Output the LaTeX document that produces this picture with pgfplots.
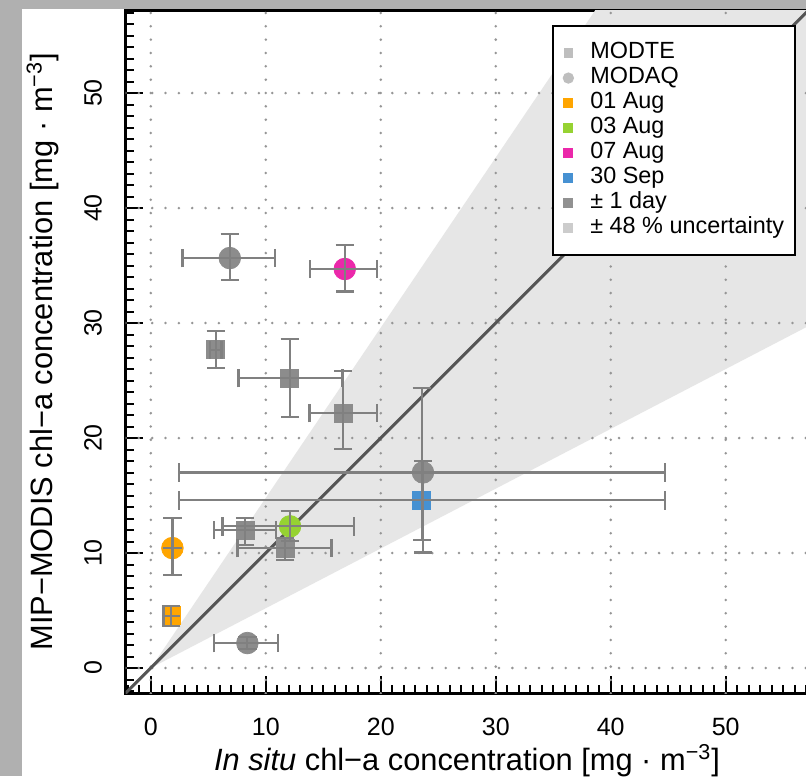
\documentclass[border=0pt]{standalone}
\usepackage{fontspec}
\setmainfont{Liberation Sans}
\usepackage{pgfplots}
\usepackage{pgfplotstable}
\pgfplotsset{compat=1.18}

\definecolor{photo}{RGB}{176,176,176}
\definecolor{wedge}{RGB}{230,230,230}
\definecolor{oneline}{RGB}{85,85,85}
\definecolor{ptgray}{RGB}{140,140,140}
\definecolor{errgray}{RGB}{128,128,128}
\definecolor{lggray}{RGB}{190,190,190}
\definecolor{lgdark}{RGB}{145,145,145}
\definecolor{lglight}{RGB}{204,204,204}
\definecolor{gridgray}{RGB}{150,150,150}
\definecolor{cOrange}{RGB}{255,165,0}
\definecolor{cGreen}{RGB}{150,210,50}
\definecolor{cMagenta}{RGB}{235,40,170}
\definecolor{cBlue}{RGB}{70,145,210}

% gray squares: MODTE, +-1 day
\pgfplotstableread{
x y
5.65 27.68
12.09 25.2
16.74 22.17
8.2 12.0
11.68 10.43
}\modtegray

% gray circles: MODAQ, +-1 day
\pgfplotstableread{
x y
6.87 35.65
23.67 17.01
8.4 2.17
}\modaqgray

% error bars of all points: x, y, x+, x-, y+, y-
\pgfplotstableread{
x y exp exm eyp eym
5.65 27.68 0.5 0.5 1.65 1.59
12.09 25.2 4.58 4.46 3.4 3.4
16.74 22.17 2.96 2.94 3.63 3.1
8.2 12.0 2.7 2.7 1.04 1.28
11.68 10.43 4.03 4.14 0.87 1.01
6.87 35.65 3.91 4.11 2.12 1.88
23.67 17.01 21.02 21.22 0.96 6.96
8.4 2.17 2.67 2.9 0.5 0.5
1.88 10.43 0 0 2.61 2.32
1.77 4.55 0 0.67 0.81 0.87
12.11 12.32 5.57 5.88 1.3 1.3
16.87 34.7 2.78 3.02 2.1 1.95
23.57 14.58 21.12 21.12 9.77 3.42
}\errs

\begin{document}
\begin{tikzpicture}
\useasboundingbox (0pt,0pt) rectangle (403pt,388pt);
\fill[photo] (0pt,0pt) rectangle (403pt,388pt);
\fill[white] (11pt,0pt) rectangle (403pt,383.5pt);
\begin{axis}[
  at={(62.75pt,41.35pt)}, anchor=south west,
  scale only axis, width=341.5pt, height=341.5pt,
  xmin=-2.2, xmax=57.2, ymin=-2.2, ymax=57.2,
  clip marker paths=true,
  xtick={0,10,...,50}, ytick={0,10,...,50},
  minor xtick={-2,-1,...,57}, minor ytick={-2,-1,...,57},
  tick align=inside, tick pos=left,
  major tick length=8.5pt, minor tick length=4.25pt,
  tick style={black, line width=1pt},
  axis line style={black, line width=1.3pt},
  /pgf/number format/assume math mode=true,
  tick label style={font=\fontsize{12.5}{14}\selectfont},
  xticklabel style={anchor=center, yshift=-17pt},
  yticklabel style={anchor=center, xshift=-16.25pt, rotate=90},
  every axis x label/.style={at={(axis description cs:0.5,-0.1127)}, anchor=base,
    font=\fontsize{15.4}{18}\selectfont},
  every axis y label/.style={at={(axis description cs:-0.1076,0.5)}, rotate=90, anchor=base,
    font=\fontsize{15.4}{18}\selectfont},
  xlabel={\textit{In situ} chl−a concentration [mg · m\textsuperscript{−3}]},
  ylabel={MIP−MODIS chl−a concentration [mg · m\textsuperscript{−3}]},
  legend style={at={(axis description cs:0.9817,0.9785)}, anchor=north east,
    draw=black, line width=1pt, fill=white,
    inner xsep=3.5pt, inner ysep=7.3pt,
    font=\fontsize{11.7}{13}\selectfont,
    nodes={text height=8.3pt, text depth=2.4pt, inner xsep=2pt, inner ysep=0.9pt},
    row sep=0pt, column sep=5pt},
  legend cell align=left,
  legend image code/.code={\path[draw=none, fill=none] (-4pt,-4pt) rectangle (4pt,4pt);
    \draw[#1] plot coordinates {(0pt,0pt)};},
]
% +-48 % uncertainty wedge
\addplot[fill=wedge, draw=none, forget plot] coordinates {(0,0) (60,88.8) (60,31.2) (0,0)};
% dotted grid
\pgfplotsinvokeforeach{0,10,20,30,40,50}{
  \draw[gridgray, line width=1.4pt, line cap=round, dash pattern=on 0pt off 6.67pt]
    (axis cs:#1,-2.2) -- (axis cs:#1,57.2);
  \draw[gridgray, line width=1.4pt, line cap=round, dash pattern=on 0pt off 6.67pt]
    (axis cs:-2.2,#1) -- (axis cs:57.2,#1);
}
% 1:1 line
\addplot[oneline, line width=1.5pt, forget plot] coordinates {(-2.2,-2.2) (57.2,57.2)};
% points
\addplot[only marks, mark=square*, mark size=4.5pt, mark options={draw=ptgray, fill=ptgray}, forget plot] table[x=x,y=y]{\modtegray};
\addplot[only marks, mark=*, mark size=5.4pt, mark options={draw=ptgray, fill=ptgray}, forget plot] table[x=x,y=y]{\modaqgray};
\addplot[only marks, mark=*, mark size=5.4pt, mark options={draw=cOrange, fill=cOrange}, forget plot] coordinates {(1.88,10.43)};
\addplot[only marks, mark=square*, mark size=4.5pt, mark options={draw=cOrange, fill=cOrange}, forget plot] coordinates {(1.77,4.55)};
\addplot[only marks, mark=*, mark size=5.4pt, mark options={draw=cGreen, fill=cGreen}, forget plot] coordinates {(12.11,12.32)};
\addplot[only marks, mark=*, mark size=5.4pt, mark options={draw=cMagenta, fill=cMagenta}, forget plot] coordinates {(16.87,34.7)};
\addplot[only marks, mark=square*, mark size=4.5pt, mark options={draw=cBlue, fill=cBlue}, forget plot] coordinates {(23.57,14.58)};
% error bars: x direction
\addplot[draw=none, forget plot,
  error bars/.cd,
    x dir=both, x explicit, error mark=|,
    error bar style={draw=errgray, line width=1.1pt},
    error mark options={draw=errgray, line width=1.1pt, mark size=4.6pt}]
  table[x=x, y=y, x error plus=exp, x error minus=exm]{\errs};
% error bars: y direction
\addplot[draw=none, forget plot,
  error bars/.cd,
    y dir=both, y explicit, error mark=|,
    error bar style={draw=errgray, line width=1.1pt},
    error mark options={draw=errgray, line width=1.1pt, mark size=4.6pt}]
  table[x=x, y=y, y error plus=eyp, y error minus=eym]{\errs};
% legend
\addlegendimage{only marks, mark=square*, mark size=1.9pt, mark options={draw=lggray, fill=lggray}}
\addlegendentry{MODTE}
\addlegendimage{only marks, mark=*, mark size=2.3pt, mark options={draw=lggray, fill=lggray}}
\addlegendentry{MODAQ}
\addlegendimage{only marks, mark=square*, mark size=2pt, mark options={draw=cOrange, fill=cOrange}}
\addlegendentry{01 Aug}
\addlegendimage{only marks, mark=square*, mark size=2pt, mark options={draw=cGreen, fill=cGreen}}
\addlegendentry{03 Aug}
\addlegendimage{only marks, mark=square*, mark size=2pt, mark options={draw=cMagenta, fill=cMagenta}}
\addlegendentry{07 Aug}
\addlegendimage{only marks, mark=square*, mark size=2pt, mark options={draw=cBlue, fill=cBlue}}
\addlegendentry{30 Sep}
\addlegendimage{only marks, mark=square*, mark size=2pt, mark options={draw=lgdark, fill=lgdark}}
\addlegendentry{± 1 day}
\addlegendimage{only marks, mark=square*, mark size=2pt, mark options={draw=lglight, fill=lglight}}
\addlegendentry{± 48 \% uncertainty}
\end{axis}
\end{tikzpicture}
\end{document}
